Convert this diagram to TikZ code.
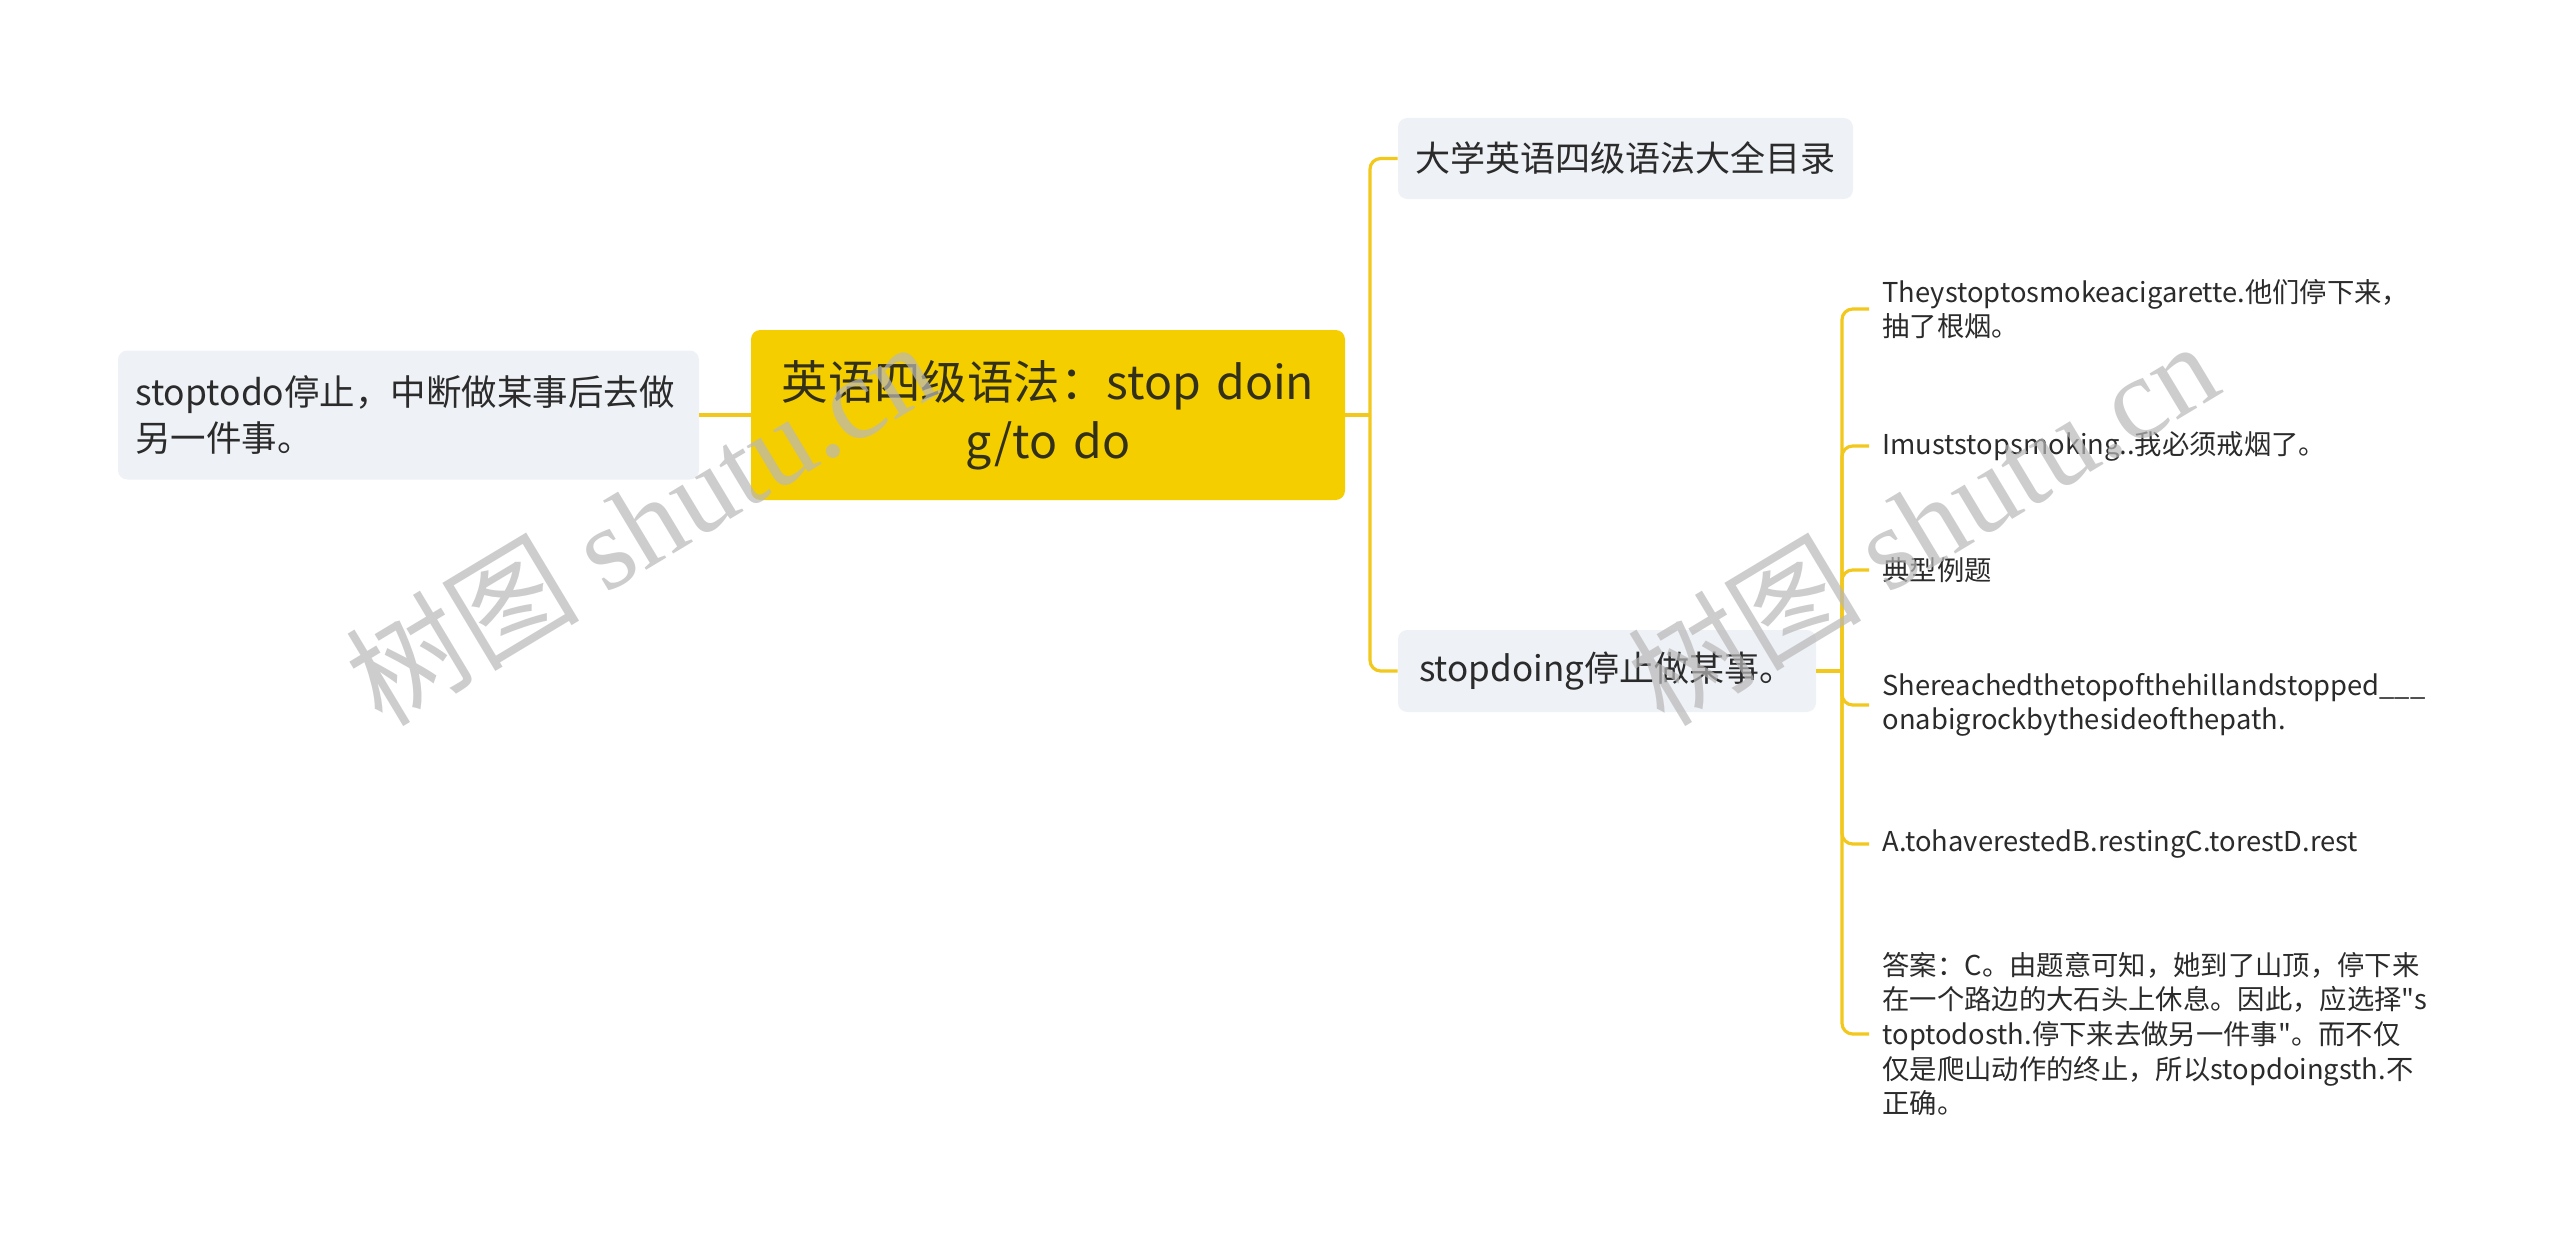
\documentclass[tikz,border=0pt]{standalone}
\usepackage{fontspec}
\newfontfamily\cjk{Noto Sans CJK SC}
\setmainfont{Noto Sans CJK SC}
\newfontfamily\wmserif{Liberation Serif}
\definecolor{rootyellow}{HTML}{F5CE00}
\definecolor{boxgray}{HTML}{EEF1F5}
\definecolor{lineyellow}{HTML}{F2C81C}
\definecolor{textdark}{HTML}{2B2B2B}
\definecolor{roottext}{HTML}{333019}
\definecolor{wmgray}{HTML}{B8B8B8}
\begin{document}
\begin{tikzpicture}[x=0.75pt,y=-0.75pt,
  rootbox/.style={fill=rootyellow, rounded corners=7pt, minimum width=445.5pt, minimum height=127.5pt,
    align=center, text width=430pt, text=roottext, font=\cjk\fontsize{34.8}{44}\selectfont, inner sep=0pt},
  graybox/.style={fill=boxgray, rounded corners=7pt, text=textdark, inner sep=0pt},
  leaf/.style={anchor=west, align=left, inner xsep=10pt, inner ysep=0pt, text=textdark,
    font=\cjk\fontsize{20.5}{26}\selectfont},
  conn/.style={draw=lineyellow, line width=2.4pt, rounded corners=8pt},
  wm/.style={text=wmgray, opacity=0.7, rotate=31, inner sep=0pt}]
\useasboundingbox (0,0) rectangle (2560,1256);
\fill[white] (0,0) rectangle (2560,1256);

% nodes
\node[rootbox] (root) at (1048,415) {英语四级语法：stop doin\\g/to do};
\node[graybox, minimum width=435.75pt, minimum height=96.75pt, text width=410pt, align=left,
  font=\cjk\fontsize{26.6}{34}\selectfont] (left) at (408.5,415) {stoptodo停止，中断做某事后去做\\另一件事。};
\node[graybox, minimum width=341.25pt, minimum height=60.75pt, align=center,
  font=\cjk\fontsize{26.3}{34}\selectfont] (n1) at (1625.5,158.5) {大学英语四级语法大全目录};
\node[graybox, minimum width=313.5pt, minimum height=61.5pt, align=center,
  font=\cjk\fontsize{26.3}{34}\selectfont] (n2) at (1607,671) {stopdoing停止做某事。};

\node[leaf] (l1) at (1869,309) {Theystoptosmokeacigarette.他们停下来，\\抽了根烟。};
\node[leaf] (l2) at (1869,446) {Imuststopsmoking..我必须戒烟了。};
\node[leaf] (l3) at (1869,570) {典型例题};
\node[leaf] (l4) at (1869,705) {Shereachedthetopofthehillandstopped\_\_\_\\onabigrockbythesideofthepath.};
\node[leaf] (l5) at (1869,844) {A.tohaverestedB.restingC.torestD.rest};
\node[leaf] (l6) at (1869,1034) {答案：C。由题意可知，她到了山顶，停下来\\在一个路边的大石头上休息。因此，应选择"s\\toptodosth.停下来去做另一件事"。而不仅\\仅是爬山动作的终止，所以stopdoingsth.不\\正确。};

% junctions
\coordinate (j1) at (1370,415);
\coordinate (j2) at (1842,671);

% connectors
\draw[conn] (root.west) -- (left.east);
\draw[conn] (root.east) -- (j1);
\draw[conn] (j1) |- (n1.west);
\draw[conn] (j1) |- (n2.west);
\draw[conn] (n2.east) -- (j2);
\foreach \l in {l1,l2,l3,l4,l5,l6}{\draw[conn] (j2) |- (\l.west);}

% watermarks
\node[wm] (wm1) at (640,522) {\fontsize{88}{88}\selectfont\cjk 树图 \wmserif shutu.cn};
\node[wm] (wm2) at (1922,522) {\fontsize{88}{88}\selectfont\cjk 树图 \wmserif shutu.cn};
\end{tikzpicture}
\end{document}
